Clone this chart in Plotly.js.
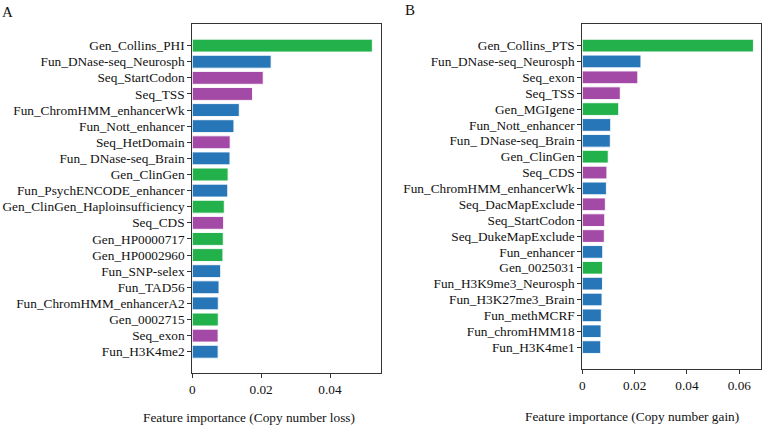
<!DOCTYPE html>
<html>
<head>
<meta charset="utf-8">
<script src="https://cdn.plot.ly/plotly-3.0.1.min.js"></script>
<style>html,body{margin:0;padding:0;background:#fff}#chart{width:763px;height:425px}</style>
</head>
<body>
<div id="chart"></div>
<script>
// Panel A: copy number loss
const lossFeatures = ["Gen_Collins_PHI","Fun_DNase-seq_Neurosph","Seq_StartCodon","Seq_TSS","Fun_ChromHMM_enhancerWk","Fun_Nott_enhancer","Seq_HetDomain","Fun_ DNase-seq_Brain","Gen_ClinGen","Fun_PsychENCODE_enhancer","Gen_ClinGen_Haploinsufficiency","Seq_CDS","Gen_HP0000717","Gen_HP0002960","Fun_SNP-selex","Fun_TAD56","Fun_ChromHMM_enhancerA2","Gen_0002715","Seq_exon","Fun_H3K4me2"];
const lossValues = [0.0523,0.0229,0.0206,0.0175,0.01365,0.0121,0.0110,0.01095,0.0104,0.0103,0.0093,0.0091,0.0090,0.0089,0.00825,0.00776,0.00755,0.00755,0.0075,0.0075];
// Panel B: copy number gain
const gainFeatures = ["Gen_Collins_PTS","Fun_DNase-seq_Neurosph","Seq_exon","Seq_TSS","Gen_MGIgene","Fun_Nott_enhancer","Fun_ DNase-seq_Brain","Gen_ClinGen","Seq_CDS","Fun_ChromHMM_enhancerWk","Seq_DacMapExclude","Seq_StartCodon","Seq_DukeMapExclude","Fun_enhancer","Gen_0025031","Fun_H3K9me3_Neurosph","Fun_H3K27me3_Brain","Fun_methMCRF","Fun_chromHMM18","Fun_H3K4me1"];
const gainValues = [0.0654,0.0224,0.0212,0.0145,0.0139,0.01085,0.0107,0.0099,0.0094,0.0092,0.0088,0.00856,0.0084,0.0078,0.00775,0.0077,0.00753,0.00726,0.00715,0.00703];
const panelLabels = ["A","B"];
const xTitles = ["Feature importance (Copy number loss)","Feature importance (Copy number gain)"];

const groupColor = {Gen:"#23b14b", Fun:"#2676b8", Seq:"#a24aa5"};
const colorOf = f => groupColor[f.split("_")[0]];
const FONT = '"Liberation Serif", "Times New Roman", Times, serif';
const FS = 13.3;

function barTrace(feats, vals, xa, ya){
  return {
    type:"bar", orientation:"h",
    x: vals, y: feats.map((f,i)=>i),
    xaxis: xa, yaxis: ya, width: 0.8,
    marker:{color: feats.map(colorOf), line:{color:"rgba(255,255,255,0.9)", width:1}},
    hoverinfo:"x+text", text: feats, textposition:"none"
  };
}

const axisCommon = {showline:true, mirror:true, linecolor:"#333", linewidth:1, showgrid:false, zeroline:false,
  ticks:"outside", ticklen:4, tickcolor:"#333", tickfont:{family:FONT, size:FS, color:"#111"}};

const layout = {
  width:763, height:425, margin:{l:0,r:0,t:0,b:0},
  paper_bgcolor:"#fff", plot_bgcolor:"#fff", showlegend:false, bargap:0.2,
  font:{family:FONT, size:FS, color:"#111"},
  xaxis: Object.assign({}, axisCommon, {domain:[0.252,0.4993], range:[0,0.0548], anchor:"y",
    tickvals:[0,0.02,0.04], ticktext:["0","0.02","0.04"]}),
  yaxis: Object.assign({}, axisCommon, {domain:[0.1216,0.9435], range:[20.34,-1.34], anchor:"x",
    tickvals: lossFeatures.map((f,i)=>i), ticktext: lossFeatures}),
  xaxis2: Object.assign({}, axisCommon, {domain:[0.7632,0.9974], range:[0,0.0683], anchor:"y2",
    tickvals:[0,0.02,0.04,0.06], ticktext:["0","0.02","0.04","0.06"]}),
  yaxis2: Object.assign({}, axisCommon, {domain:[0.131,0.9435], range:[20.4,-1.36], anchor:"x2",
    tickvals: gainFeatures.map((f,i)=>i), ticktext: gainFeatures}),
  annotations:[
    {text:panelLabels[0], xref:"paper", yref:"paper", x:7/763, y:1-12/425, showarrow:false, xanchor:"center", yanchor:"middle", font:{family:FONT,size:15,color:"#111"}},
    {text:panelLabels[1], xref:"paper", yref:"paper", x:410/763, y:1-10/425, showarrow:false, xanchor:"center", yanchor:"middle", font:{family:FONT,size:15,color:"#111"}},
    {text:xTitles[0], xref:"paper", yref:"paper", x:249/763, y:1-417/425, showarrow:false, xanchor:"center", yanchor:"middle", font:{family:FONT,size:FS,color:"#111"}},
    {text:xTitles[1], xref:"paper", yref:"paper", x:632/763, y:1-416/425, showarrow:false, xanchor:"center", yanchor:"middle", font:{family:FONT,size:FS,color:"#111"}}
  ]
};

Plotly.newPlot("chart", [barTrace(lossFeatures, lossValues, "x", "y"), barTrace(gainFeatures, gainValues, "x2", "y2")], layout, {displayModeBar:false, staticPlot:true});
</script>
</body>
</html>
